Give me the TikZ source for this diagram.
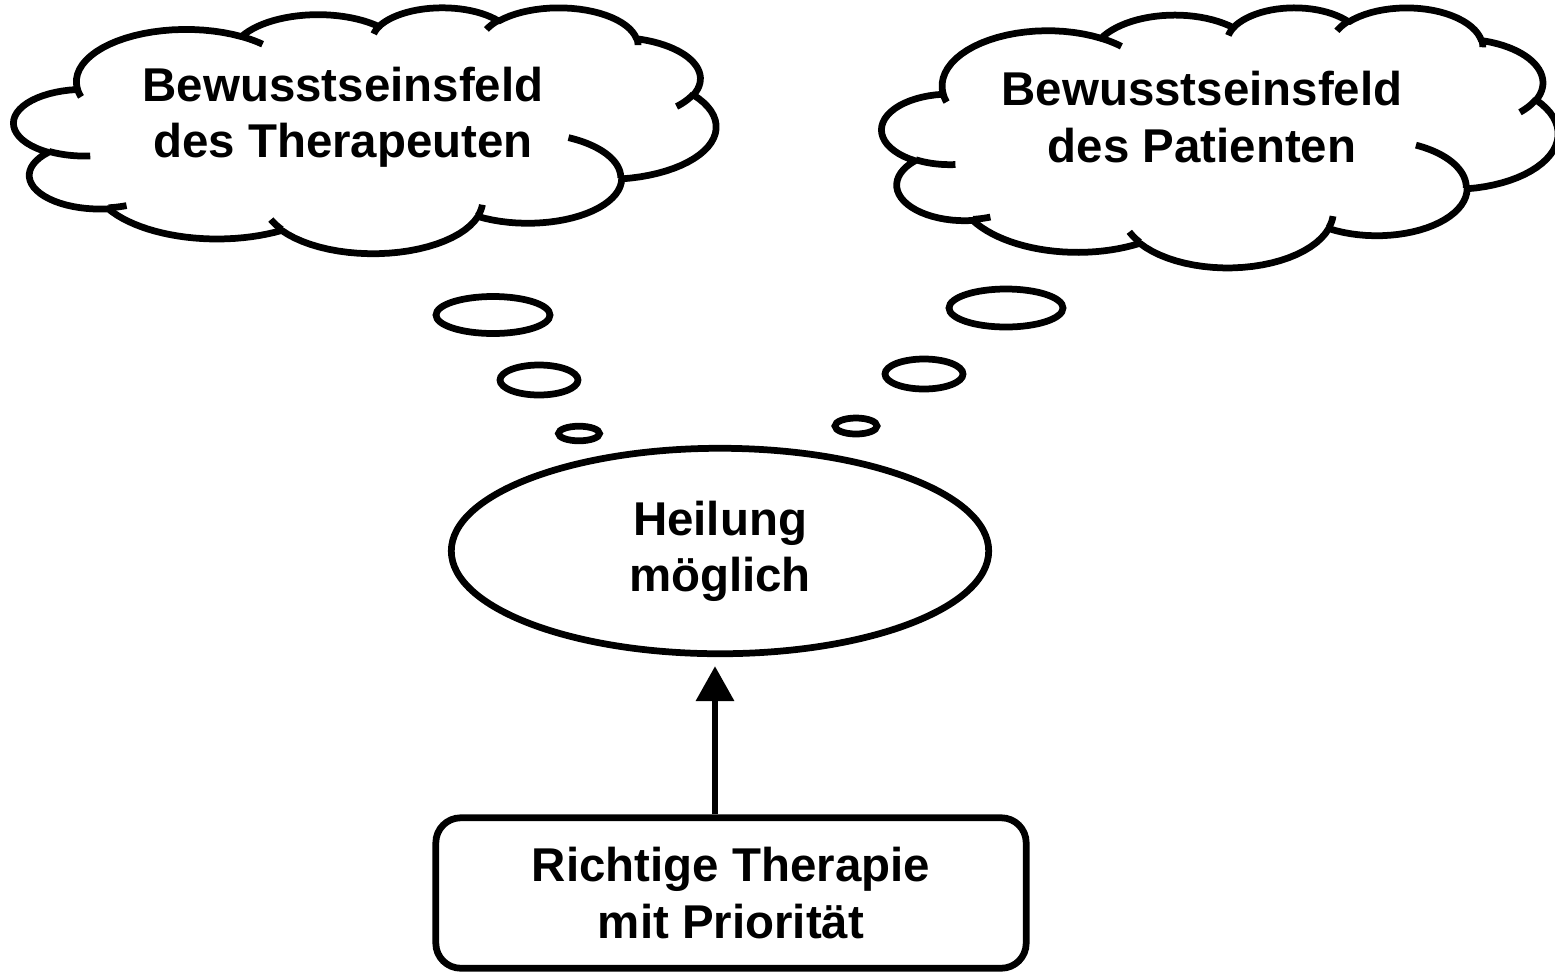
\documentclass[tikz,border=0pt]{standalone}
\usepackage{fontspec}
\setmainfont{Liberation Sans}
\usetikzlibrary{shapes.geometric,arrows.meta}

% one elliptic arc of a cloud outline (box 0..432), appended to \cloudpath
\newcommand\cloudarc[4]{%
  \pgfmathsetmacro\tA{atan2(#1*sin(#3),#2*cos(#3))}%
  \pgfmathsetmacro\tB{atan2(#1*sin(#3+#4),#2*cos(#3+#4))}%
  \pgfmathsetmacro\tB{\tB+360*((#4>0)*(\tB<\tA))-360*((#4<0)*(\tB>\tA))}%
  \pgfmathsetmacro\ox{\cpx-#1*cos(\tA)}%
  \pgfmathsetmacro\oy{\cpy-#2*sin(\tA)}%
  \foreach \k in {1,...,24}{%
    \pgfmathsetmacro\px{\ox+#1*cos(\tA+(\tB-\tA)*\k/24)}%
    \pgfmathsetmacro\py{\oy+#2*sin(\tA+(\tB-\tA)*\k/24)}%
    \xdef\cloudpath{\cloudpath -- (\px,\py)}%
    \xdef\cpx{\px}\xdef\cpy{\py}%
  }%
}
% short inner arc of the cloud
\newcommand\cloudwhisk[6]{%
  \xdef\cpx{#1}\xdef\cpy{#2}\xdef\cloudpath{(#1,#2)}%
  \cloudarc{#3}{#4}{#5}{#6}%
  \edef\tmp{\noexpand\draw[cloudline] \cloudpath;}\tmp
}
\newcommand\cloudshape{%
  \xdef\cpx{39}\xdef\cpy{143.7}\xdef\cloudpath{(39,143.7)}%
  \cloudarc{67.53}{91.90}{-190.487}{123.781}%
  \cloudarc{53.33}{72.67}{-144.102}{89.945}%
  \cloudarc{43.65}{59.45}{-145.808}{99.723}%
  \cloudarc{48.57}{65.95}{-130.986}{117.242}%
  \cloudarc{53.33}{72.73}{-78.709}{109.027}%
  \cloudarc{67.75}{92.20}{-46.267}{130.269}%
  \cloudarc{57.85}{78.67}{0.625}{114.033}%
  \cloudarc{67.52}{92.15}{22.452}{115.173}%
  \cloudarc{77.20}{105.43}{66.243}{75.711}%
  \cloudarc{43.60}{59.18}{-274.942}{146.736}%
  \cloudarc{43.45}{59.45}{-246.829}{152.519}%
  \edef\tmp{\noexpand\draw[cloudline] \cloudpath -- cycle;}\tmp
  \cloudwhisk{46.93}{261.77}{43.45}{59.45}{86.742}{26.430}%
  \cloudwhisk{69.28}{348.99}{43.60}{59.18}{73.610}{11.447}%
  \cloudwhisk{164.78}{390.90}{67.52}{92.15}{137.624}{14.081}%
  \cloudwhisk{288.27}{347.51}{67.52}{92.15}{6.453}{15.998}%
  \cloudwhisk{341.29}{229.54}{57.85}{78.67}{-70}{70.6}%
  \cloudwhisk{417.98}{153.54}{53.33}{72.73}{30}{21.937}%
  \cloudwhisk{383.24}{54.26}{48.57}{65.95}{-13.744}{14.851}%
  \cloudwhisk{290.78}{39.52}{48.57}{65.95}{-149.181}{18.194}%
  \cloudwhisk{221.41}{47.20}{43.65}{59.45}{-163.494}{17.689}%
  \cloudwhisk{140.00}{51.92}{67.53}{91.90}{-66.707}{12.319}%
  \cloudwhisk{41.27}{157.89}{67.53}{91.90}{157.654}{11.858}%
}

\begin{document}
\begin{tikzpicture}[x=0.02cm, y=-0.02cm, line width=0.135cm,
    txt/.style={font=\bfseries\fontsize{27}{32}\selectfont, align=center},
    cloudline/.style={line join=round},
    arr/.style={-{Triangle[length=0.7cm, width=0.74cm]}}]
  %%%%% START %%%%%
  \useasboundingbox (0,0) rectangle (1555,975);

  % clouds
  \begin{scope}[shift={(14,7)}, x=0.0325cm, y=-0.011389cm]
    \cloudshape
  \end{scope}
  \begin{scope}[shift={(882,7)}, x=0.031296cm, y=-0.012037cm]
    \cloudshape
  \end{scope}
  \node[txt] (thera) at (343,117) {Bewusstseinsfeld\\des Therapeuten};
  \node[txt] (pati) at (1202,117) {Bewusstseinsfeld\\des Patienten};

  % thought bubbles
  \draw (493,315) ellipse (57 and 18.5);
  \draw (539,380) ellipse (39 and 15);
  \draw (579,433.5) ellipse (20.5 and 7.3);
  \draw (1006,308) ellipse (57 and 19);
  \draw (924,374) ellipse (39 and 15);
  \draw (856,426) ellipse (21 and 8);

  \node[draw, ellipse, inner sep=0pt, minimum width=10.75cm, minimum height=4.11cm, txt] (heil) at (720,551) {Heilung\\möglich};
  \node[draw, rounded corners=0.5cm, minimum width=11.81cm, minimum height=3.01cm, txt] (prio) at (731,893) {Richtige Therapie\\mit Priorität};

  \coordinate (tip) at ([xshift=-0.1cm, yshift=-0.18cm]heil.south);
  \draw[arr] (prio.north -| tip) -- (tip);
  %%%%% END %%%%%
\end{tikzpicture}
\end{document}
